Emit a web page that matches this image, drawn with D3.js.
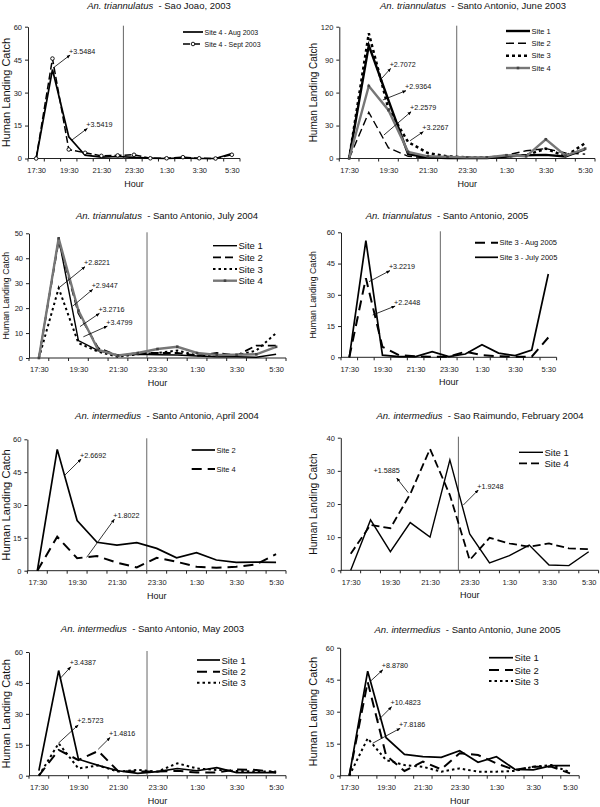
<!DOCTYPE html>
<html>
<head>
<meta charset="utf-8">
<script src="https://cdn.jsdelivr.net/npm/d3@7"></script>
<style>
body { margin: 0; background: #fff; }
svg { font-family: "Liberation Sans", Arial, sans-serif; }
</style>
</head>
<body>
<svg id="chart" width="600" height="807"></svg>
<script>
var hours = ["17:30", "18:30", "19:30", "20:30", "21:30", "22:30", "23:30", "0:30", "1:30", "2:30", "3:30", "4:30", "5:30"];
var shownHours = ["17:30", "19:30", "21:30", "23:30", "1:30", "3:30", "5:30"];

// Sao Joao 2003
var sjAug2003 = [0, 40.5, 9.9, 1.5, 0.6, 0.9, 0.5, 0.2, 0, 0.3, 0, 0, 2.3];
var sjSept2003 = [0, 45.5, 4.1, 2.6, 1.2, 1.4, 1.7, 0.1, 0.1, 0.6, 0.1, 0, 1.7];
// Santo Antonio, June 2003
var saJun2003Site1 = [0, 103, 53, 4, 1, 0.5, 0.5, 0.3, 1.8, 3, 3.3, 1.8, 8.5];
var saJun2003Site2 = [0, 42, 9.7, 2, 0.5, 0.5, 0.5, 1, 3, 7, 9, 5, 4];
var saJun2003Site3 = [0, 114, 45, 15, 5, 2, 1, 1, 2, 3, 9, 2, 14];
var saJun2003Site4 = [0, 66, 44, 6, 2, 1.5, 1, 1, 3, 2, 17.5, 2.5, 9];
// Santo Antonio, July 2004
var saJul2004Site1 = [0, 48, 7, 3, 1, 1.5, 1.3, 1.2, 0.8, 0.5, 0.5, 0.3, 1.5];
var saJul2004Site2 = [0, 47, 18, 4, 1, 2, 2, 2, 1, 2, 1, 5, 5];
var saJul2004Site3 = [0, 28, 6, 2.5, 0.5, 1.5, 2, 3, 1, 1, 1, 3, 10];
var saJul2004Site4 = [0, 48, 19, 3.2, 1, 2, 3.6, 4.5, 2, 1.2, 1.3, 1.5, 4.5];
// Santo Antonio, 2005
var sa2005Aug = [0, 38, 5, 1, 0.5, 0.3, 0.3, 2.7, 1, 0.5, 0.3, 0.3, 9.5];
var sa2005Jul = [0, 56, 1, 0.3, 0.3, 2.7, 0.3, 1.6, 6, 2, 0.8, 3.5, 40];
// An. intermedius
var saApr2004Site2 = [0, 55.4, 22.9, 13, 11.7, 12.8, 10.2, 5.9, 8.2, 4.9, 3.8, 3.9, 3.8];
var saApr2004Site4 = [0, 15.5, 5.7, 6.7, 3.7, 1.5, 5.9, 4.1, 1.8, 1.4, 1.8, 2.9, 7.6];
var srFeb2004Site1 = [0, 15.2, 5.6, 14.4, 10, 33.3, 11, 2.2, 4.4, 7.6, 1.6, 1.4, 5.6];
var srFeb2004Site4 = [5, 13.7, 12.7, 23, 36.6, 22.7, 3.1, 9.8, 8.1, 7.1, 8.1, 6.6, 6.4];
var saMay2003Site1 = [2.5, 51, 8, 5, 2.4, 1.1, 2, 3.5, 2.4, 3.9, 1.5, 1.5, 1.5];
var saMay2003Site2 = [0, 12.5, 7.6, 12, 2.3, 2, 2, 2.4, 1.5, 1.6, 3, 2.8, 1.6];
var saMay2003Site3 = [0, 15.7, 3.5, 5, 2, 2.8, 2, 6, 3.5, 2.8, 2.3, 2, 2];
var saJun2005Site1 = [0, 49, 17.8, 10, 8.9, 8.6, 11.7, 6.3, 8.9, 3, 2.7, 4.7, 4.7];
var saJun2005Site2 = [0, 44, 9.5, 2.2, 6.6, 3, 10.5, 9.7, 5.8, 2.7, 4.2, 4.2, 1.1];
var saJun2005Site3 = [0, 17.5, 7.3, 5, 4.2, 1.9, 3.4, 1.9, 1.9, 2.2, 4.2, 5, 1.6];

// annotations: arrow from [hour index, catch] to [hour index, catch]
var sjNotes = [
  {text: "+3.5484", from: [1.04, 41.2], to: [2.08, 47.1]},
  {text: "+3.5419", from: [2.19, 8.4], to: [3.14, 13.7]}
];
var saJun2003Notes = [
  {text: "+2.7072", from: [1.66, 73], to: [2.11, 82]},
  {text: "+2.9364", from: [1.71, 53.3], to: [2.89, 61.7]},
  {text: "+2.2579", from: [1.77, 21.4], to: [3.15, 42.6]},
  {text: "+3.2267", from: [3.1, 16.2], to: [3.77, 24.4]}
];
var saJul2004Notes = [
  {text: "+2.8221", from: [0.98, 27.9], to: [2.33, 36.6]},
  {text: "+2.9447", from: [1.71, 20.8], to: [2.72, 27.5]},
  {text: "+3.2716", from: [2.08, 12.6], to: [3.06, 17.9]},
  {text: "+3.4799", from: [2.25, 8.5], to: [3.46, 12.8]}
];
var sa2005Notes = [
  {text: "+3.2219", from: [1.19, 36.3], to: [2.45, 41.6]},
  {text: "+2.2448", from: [1.41, 20.3], to: [2.76, 24.6]}
];
var saApr2004Notes = [
  {text: "+2.6692", from: [1.39, 43.7], to: [2.2, 51]},
  {text: "+1.8022", from: [2.48, 6.1], to: [3.87, 23.5]}
];
var srFeb2004Notes = [
  {text: "+1.5885", from: [2.9, 23.4], to: [2.32, 27.8], anchor: "end"},
  {text: "+1.9248", from: [5.68, 19.7], to: [6.43, 24.2]}
];
var saMay2003Notes = [
  {text: "+3.4387", from: [1.07, 47.1], to: [1.61, 52.8]},
  {text: "+2.5723", from: [0.98, 15.7], to: [1.99, 24.6]},
  {text: "+1.4816", from: [3.0, 12.8], to: [3.6, 18.5]}
];
var saJun2005Notes = [
  {text: "+8.8780", from: [1.125, 44.1], to: [1.82, 49.6]},
  {text: "+10.4823", from: [1.58, 26.1], to: [2.3, 32.3]},
  {text: "+7.8186", from: [1.27, 15.2], to: [2.76, 22.2]}
];

var styles = {
  solid: {stroke: "#000", width: 1.7},
  thin: {stroke: "#000", width: 1.4},
  thick: {stroke: "#000", width: 2.4},
  dash: {stroke: "#000", width: 1.8, dash: "8,4"},
  longDash: {stroke: "#000", width: 2, dash: "10,6"},
  thinDash: {stroke: "#000", width: 1.4, dash: "8,4"},
  dot: {stroke: "#000", width: 2, dash: "2.5,3"},
  heavyDot: {stroke: "#000", width: 2.5, dash: "3,3"},
  grey: {stroke: "#777", width: 2.4, marker: "dot"},
  dashCircle: {stroke: "#000", width: 1.5, dash: "7,3", marker: "circle"}
};

var panels = [
  {species: "An. triannulatus", place: "  - Sao Joao, 2003", titleX: 159, titleY: 8.5,
   left: 28, right: 240, top: 26.7, bottom: 158.5, yMax: 60, yStep: 15, vline: 5.35,
   yLabelX: 6, yLabelSize: 11,
   series: [{name: "Site 4 - Aug 2003", values: sjAug2003, style: "solid"},
            {name: "Site 4 - Sept 2003", values: sjSept2003, style: "dashCircle"}],
   legend: {x0: 183, x1: 203, rows: [32, 44], size: 7}, notes: sjNotes},
  {species: "An. triannulatus", place: "  - Santo Antonio, June 2003", titleX: 473, titleY: 8.5,
   left: 339.3, right: 595, top: 26.7, bottom: 158.5, yMax: 120, yStep: 30, vline: 5.47,
   yLabelX: 313, yLabelSize: 10,
   series: [{name: "Site 1", values: saJun2003Site1, style: "thick"},
            {name: "Site 2", values: saJun2003Site2, style: "thinDash"},
            {name: "Site 3", values: saJun2003Site3, style: "heavyDot"},
            {name: "Site 4", values: saJun2003Site4, style: "grey"}],
   legend: {x0: 506, x1: 530, rows: [31, 43.3, 55.7, 68], size: 7.5}, notes: saJun2003Notes},
  {species: "An. triannulatus", place: "  - Santo Antonio, July 2004", titleX: 167, titleY: 218.5,
   left: 29, right: 286, top: 233.3, bottom: 358, yMax: 50, yStep: 10, vline: 5.47,
   yLabelX: 6, yLabelSize: 8.8,
   series: [{name: "Site 1", values: saJul2004Site1, style: "thin"},
            {name: "Site 2", values: saJul2004Site2, style: "dash"},
            {name: "Site 3", values: saJul2004Site3, style: "dot"},
            {name: "Site 4", values: saJul2004Site4, style: "grey"}],
   legend: {x0: 213, x1: 237, rows: [245.7, 257.3, 269, 280.7], size: 9.5}, notes: saJul2004Notes},
  {species: "An. triannulatus", place: "  - Santo Antonio, 2005", titleX: 447, titleY: 218.5,
   left: 341, right: 556.6, top: 232.3, bottom: 357.3, yMax: 60, yStep: 15, vline: 5.49,
   yLabelX: 313, yLabelSize: 8.8,
   series: [{name: "Site 3 - Aug 2005", values: sa2005Aug, style: "longDash"},
            {name: "Site 3 - July 2005", values: sa2005Jul, style: "solid"}],
   legend: {x0: 475, x1: 498, rows: [242.7, 257.3], size: 7.5}, notes: sa2005Notes},
  {species: "An. intermedius", place: "  - Santo Antonio, April 2004", titleX: 167, titleY: 418.5,
   left: 27.4, right: 286, top: 439.3, bottom: 570.7, yMax: 60, yStep: 15, vline: 5.5,
   yLabelX: 6, yLabelSize: 11.2,
   series: [{name: "Site 2", values: saApr2004Site2, style: "solid"},
            {name: "Site 4", values: saApr2004Site4, style: "longDash"}],
   legend: {x0: 191.7, x1: 215, rows: [450, 469], size: 7.5}, notes: saApr2004Notes},
  {species: "An. intermedius", place: "  - Sao Raimundo, February 2004", titleX: 480, titleY: 418.5,
   left: 340.8, right: 598.6, top: 437.7, bottom: 570.3, yMax: 40, yStep: 10, vline: 5.43,
   yLabelX: 313, yLabelSize: 10.2,
   series: [{name: "Site 1", values: srFeb2004Site1, style: "thin"},
            {name: "Site 4", values: srFeb2004Site4, style: "dash"}],
   legend: {x0: 519, x1: 543, rows: [452.3, 463.3], size: 9.5}, notes: srFeb2004Notes},
  {species: "An. intermedius", place: "  - Santo Antonio, May 2003", titleX: 152.5, titleY: 631.5,
   left: 29, right: 286, top: 652, bottom: 775.7, yMax: 60, yStep: 15, vline: 5.47,
   yLabelX: 6, yLabelSize: 11,
   series: [{name: "Site 1", values: saMay2003Site1, style: "solid"},
            {name: "Site 2", values: saMay2003Site2, style: "longDash"},
            {name: "Site 3", values: saMay2003Site3, style: "dot"}],
   legend: {x0: 197, x1: 220, rows: [660, 671.7, 682.7], size: 9.5}, notes: saMay2003Notes},
  {species: "An. intermedius", place: "  - Santo Antonio, June 2005", titleX: 467.5, titleY: 632.5,
   left: 340.1, right: 579.2, top: 647.7, bottom: 775.7, yMax: 60, yStep: 15, vline: null,
   yLabelX: 313, yLabelSize: 11,
   series: [{name: "Site 1", values: saJun2005Site1, style: "solid"},
            {name: "Site 2", values: saJun2005Site2, style: "longDash"},
            {name: "Site 3", values: saJun2005Site3, style: "dot"}],
   legend: {x0: 489, x1: 513, rows: [657.7, 670, 681], size: 9.5}, notes: saJun2005Notes}
];

var svg = d3.select("#chart");

svg.append("defs").append("marker")
  .attr("id", "arrow")
  .attr("viewBox", "0 0 10 10")
  .attr("refX", 9).attr("refY", 5)
  .attr("markerWidth", 5).attr("markerHeight", 5)
  .attr("orient", "auto")
  .append("path")
  .attr("d", "M0,1 L10,5 L0,9 Z")
  .attr("fill", "#000");

function styleLine(sel, st) {
  sel.attr("fill", "none")
    .attr("stroke", st.stroke)
    .attr("stroke-width", st.width)
    .attr("stroke-dasharray", st.dash || null)
    .attr("stroke-linejoin", "miter");
}

function drawMarkers(g, pts, st) {
  if (st.marker == "dot") {
    g.selectAll(null).data(pts).enter().append("rect")
      .attr("x", d => d[0] - 1.3).attr("y", d => d[1] - 1.3)
      .attr("width", 2.6).attr("height", 2.6)
      .attr("fill", "#444");
  } else if (st.marker == "circle") {
    g.selectAll(null).data(pts).enter().append("circle")
      .attr("cx", d => d[0]).attr("cy", d => d[1]).attr("r", 1.8)
      .attr("fill", "#fff").attr("stroke", "#000").attr("stroke-width", 0.9);
  }
}

function drawPanel(p) {
  var g = svg.append("g");

  var x = d3.scalePoint().domain(hours).range([p.left, p.right]).padding(0.5);
  var y = d3.scaleLinear().domain([0, p.yMax]).range([p.bottom, p.top]);
  var xi = d3.scaleLinear().domain([0, hours.length - 1]).range([x(hours[0]), x(hours[hours.length - 1])]);

  // y axis
  var yAxis = d3.axisLeft(y)
    .tickValues(d3.range(0, p.yMax + 0.001, p.yStep))
    .tickSize(3).tickSizeOuter(0).tickPadding(3);
  var yg = g.append("g").attr("transform", "translate(" + p.left + ",0)").call(yAxis);
  yg.attr("font-family", null).attr("font-size", 7.5);
  yg.selectAll("line, path").attr("stroke", "#222");
  yg.selectAll("text").attr("fill", "#222");

  // x axis, labels every two hours
  var xAxis = d3.axisBottom(x).tickValues(shownHours).tickSize(0).tickSizeOuter(0).tickPadding(9);
  var xg = g.append("g").attr("transform", "translate(0," + p.bottom + ")").call(xAxis);
  xg.attr("font-family", null).attr("font-size", 7.5);
  xg.select("path").attr("d", "M" + p.left + ",0H" + p.right).attr("stroke", "#222");
  xg.selectAll("text").attr("fill", "#222");

  // tick marks between categories
  var bounds = hours.map(h => x(h) - x.step() / 2).concat([p.right]);
  g.selectAll(null).data(bounds).enter().append("line")
    .attr("x1", d => d).attr("x2", d => d)
    .attr("y1", p.bottom).attr("y2", p.bottom + 3)
    .attr("stroke", "#222");

  // vertical reference line
  if (p.vline != null) {
    g.append("line")
      .attr("x1", xi(p.vline)).attr("x2", xi(p.vline))
      .attr("y1", p.top - 1).attr("y2", p.bottom)
      .attr("stroke", "#555").attr("stroke-width", 0.9);
  }

  // series
  var line = d3.line().x((d, i) => x(hours[i])).y(d => y(d));
  p.series.forEach(function (s) {
    var st = styles[s.style];
    g.append("path").datum(s.values).attr("d", line).call(styleLine, st);
    drawMarkers(g, s.values.map((v, i) => [x(hours[i]), y(v)]), st);
  });

  // annotations
  p.notes.forEach(function (n) {
    g.append("line")
      .attr("x1", xi(n.from[0])).attr("y1", y(n.from[1]))
      .attr("x2", xi(n.to[0])).attr("y2", y(n.to[1]))
      .attr("stroke", "#000").attr("stroke-width", 0.8)
      .attr("marker-end", "url(#arrow)");
    var end = n.anchor == "end";
    g.append("text")
      .attr("x", xi(n.to[0]) + (end ? 3 : -1))
      .attr("y", y(n.to[1]) - (end ? 8 : 4))
      .attr("text-anchor", end ? "end" : "start")
      .attr("dominant-baseline", "central")
      .attr("font-size", 7.2)
      .attr("fill", "#111")
      .text(n.text);
  });

  // legend
  p.series.forEach(function (s, i) {
    var st = styles[s.style];
    var ly = p.legend.rows[i];
    g.append("line")
      .attr("x1", p.legend.x0).attr("x2", p.legend.x1)
      .attr("y1", ly).attr("y2", ly)
      .call(styleLine, st);
    drawMarkers(g, [[(p.legend.x0 + p.legend.x1) / 2, ly]], st);
    g.append("text")
      .attr("x", p.legend.x1 + 1.5).attr("y", ly)
      .attr("dominant-baseline", "central")
      .attr("font-size", p.legend.size)
      .attr("fill", "#111")
      .text(s.name);
  });

  // title
  var t = g.append("text")
    .attr("x", p.titleX).attr("y", p.titleY)
    .attr("text-anchor", "middle")
    .attr("font-size", 9.5)
    .attr("fill", "#111")
    .style("white-space", "pre");
  t.append("tspan").attr("font-style", "italic").text(p.species);
  t.append("tspan").text(p.place);

  // axis titles
  g.append("text")
    .attr("transform", "translate(" + p.yLabelX + "," + (p.top + p.bottom) / 2 + ") rotate(-90)")
    .attr("text-anchor", "middle")
    .attr("dominant-baseline", "central")
    .attr("font-size", p.yLabelSize)
    .attr("fill", "#111")
    .text("Human Landing Catch");

  g.append("text")
    .attr("x", (p.left + p.right) / 2).attr("y", p.bottom + 25)
    .attr("text-anchor", "middle")
    .attr("dominant-baseline", "central")
    .attr("font-size", 9)
    .attr("fill", "#111")
    .text("Hour");
}

panels.forEach(drawPanel);
</script>
</body>
</html>
